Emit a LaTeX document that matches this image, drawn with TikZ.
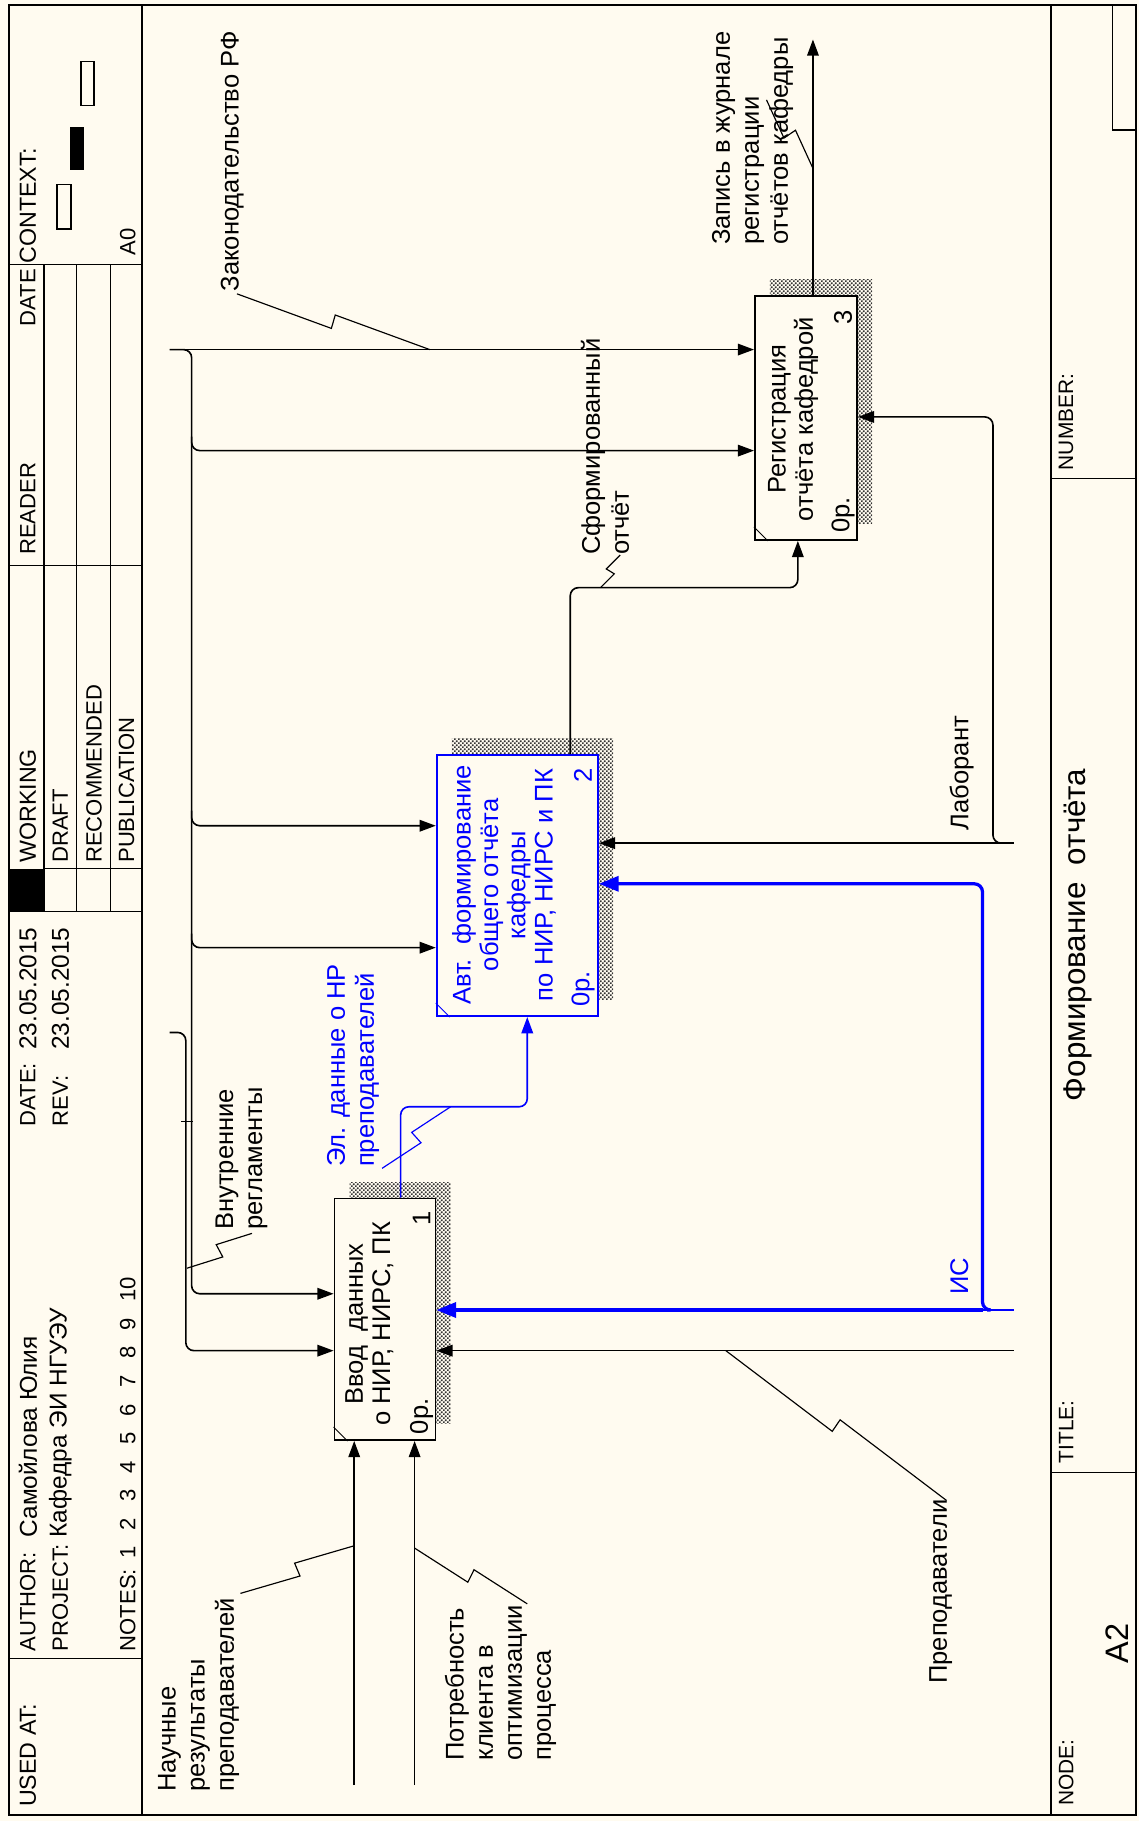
\documentclass[tikz,border=0pt]{standalone}
\usepackage{fontspec}
\setmainfont{Liberation Sans}
\usetikzlibrary{arrows.meta,calc,patterns}
\definecolor{paper}{RGB}{255,251,240}
\definecolor{idb}{RGB}{0,0,255}
\pgfdeclarepatternformonly{idefhatch}{\pgfqpoint{0pt}{0pt}}{\pgfqpoint{3.4pt}{3.4pt}}{\pgfqpoint{3.4pt}{3.4pt}}{%
  \pgfpathrectangle{\pgfqpoint{0pt}{0pt}}{\pgfqpoint{1.45pt}{1.45pt}}%
  \pgfpathrectangle{\pgfqpoint{1.7pt}{1.7pt}}{\pgfqpoint{1.45pt}{1.45pt}}%
  \pgfusepath{fill}}
\tikzset{
  frameline/.style={draw=black,line width=1.5pt},
  thinframe/.style={draw=black,line width=1.1pt},
  frtext/.style={rotate=90,inner sep=0pt,anchor=west,font=\fontsize{#1}{#1}\selectfont},
  frtext/.default=19,
  lbl/.style={rotate=90,inner sep=0pt,anchor=west,align=left,font=\fontsize{22}{25}\selectfont},
  boxtext/.style={rotate=90,inner sep=0pt,align=center,font=\fontsize{22}{23.5}\selectfont},
  idefbox/.style={draw=black,line width=1.5pt,fill=paper,inner sep=0pt,
    preaction={draw=none,pattern=idefhatch,pattern color=black!80,
      transform canvas={xshift=13pt,yshift=14pt}}},
  arr/.style={draw=black,line width=1.4pt,rounded corners=7pt,-{Triangle[length=14pt,width=10pt]}},
  barr/.style={draw=idb,line width=2.8pt,rounded corners=7pt,-{Triangle[length=17pt,width=13pt]}},
  bthinarr/.style={draw=idb,line width=1.4pt,rounded corners=7pt,-{Triangle[length=14pt,width=10pt]}},
  bthin/.style={draw=idb,line width=1.3pt},
  leader/.style={draw=black,line width=1pt},
}
\newcommand\zleader[4][6]{%
  \coordinate (zlm) at ($(#2)!0.5!(#3)$);
  \draw[leader,#4] (#2) -- ($(zlm)!#1pt!-90:(#3)$) -- ($(zlm)!#1pt!90:(#3)$) -- (#3);}
\begin{document}
\begin{tikzpicture}[x=1pt,y=-1pt]
\useasboundingbox (0,0) rectangle (981,1568);
\fill[paper] (0,0) rectangle (981,1568);

% ---------- frame ----------
\draw[frameline] (8,4) rectangle (978,1563);
\draw[frameline] (122,4) -- (122,1563);
\draw[frameline] (905,4) -- (905,1563);
\draw[thinframe] (8,228) -- (122,228) (8,487) -- (122,487) (8,785) -- (122,785) (8,1428) -- (122,1428);
\draw[thinframe] (38,228) -- (38,785) (66,228) -- (66,785) (95,228) -- (95,785) (38,748) -- (122,748);
\fill (8,748) rectangle (38,785);
\draw[thinframe] (905,412) -- (978,412) (905,1268) -- (978,1268);
\draw[thinframe] (958,4) -- (958,112) -- (978,112);
\draw[thinframe,line width=1.4pt] (49,159) rectangle (61,197);
\fill (60,109) rectangle (72,146);
\draw[thinframe,line width=1.4pt] (70,53) rectangle (81,91);

\node[frtext=20] (tused) at (24,1556) {USED AT:};
\node[frtext] (tauth) at (24,1422) {AUTHOR:};
\node[frtext=21] (tauthv) at (24,1324) {Самойлова Юлия};
\node[frtext] (tproj) at (52,1422) {PROJECT:};
\node[frtext=21] (tprojv) at (52,1324) {Кафедра ЭИ НГУЭУ};
\node[frtext] (tnotes) at (110,1422) {NOTES:\hspace{9pt}1\hspace{14pt}2\hspace{14pt}3\hspace{14pt}4\hspace{14pt}5\hspace{14pt}6\hspace{14pt}7\hspace{14pt}8\hspace{14pt}9\hspace{14pt}10};
\node[frtext] (tdate) at (24,970) {DATE:};
\node[frtext=21] (tdatev) at (24,904) {23.05.2015};
\node[frtext] (trev) at (52,970) {REV:};
\node[frtext=21] (trevv) at (52,904) {23.05.2015};
\node[frtext=20] (twork) at (24,743) {WORKING};
\node[frtext] (tdraft) at (52,743) {DRAFT};
\node[frtext] (trec) at (81,743) {RECOMMENDED};
\node[frtext] (tpub) at (109,743) {PUBLICATION};
\node[frtext] (tread) at (24,478) {READER};
\node[frtext] (tdate2) at (24,281) {DATE};
\node[frtext=20] (tctx) at (24,227) {CONTEXT:};
\node[frtext] (ta0) at (110,220) {A0};
\node[frtext=18] (tnum) at (918,405) {NUMBER:};
\node[frtext=18] (ttitle) at (918,1260) {TITLE:};
\node[frtext=18] (tnode) at (918,1555) {NODE:};
\node[rotate=90,inner sep=0pt,font=\fontsize{27}{30}\selectfont] (ttl) at (928,805) {Формирование\ \ отчёта};
\node[rotate=90,inner sep=0pt,font=\fontsize{28}{30}\selectfont] (tA2) at (962,1415) {A2};

% ---------- boxes ----------
\node[idefbox,minimum width=87pt,minimum height=208pt] (b1) at (331.5,1136) {};
\node[idefbox,draw=idb,minimum width=139pt,minimum height=225pt] (b2) at (445.5,762.5) {};
\node[idefbox,minimum width=88pt,minimum height=210pt] (b3) at (694,360) {};
\draw[line width=0.8pt] ($(b1.south west)+(0,-12)$) -- ($(b1.south west)+(12,0)$);
\draw[line width=0.8pt,idb] ($(b2.south west)+(0,-12)$) -- ($(b2.south west)+(12,0)$);
\draw[line width=0.8pt] ($(b3.south west)+(0,-12)$) -- ($(b3.south west)+(12,0)$);

\node[boxtext] (t1) at (318,1140) {Ввод\ \ данных\\о НИР, НИРС, ПК};
\node[boxtext,text=idb] (t2) at (434,762) {Авт.\ \ формирование\\общего отчёта\\кафедры\\по НИР, НИРС и ПК};
\node[boxtext] (t3) at (683,361) {Регистрация\\отчёта кафедрой};
\node[lbl,anchor=east] (n1) at (363,1043) {1};
\node[lbl] (c1) at (363,1235) {0р.};
\node[lbl,anchor=east,text=idb] (n2) at (502,661) {2};
\node[lbl,text=idb] (c2) at (502,867) {0р.};
\node[lbl,anchor=east] (n3) at (726,267) {3};
\node[lbl] (c3) at (726,459) {0р.};

% ---------- free ends ----------
\coordinate (lawin) at (146,301);
\coordinate (regin) at (146,889);
\coordinate (nrin) at (305,1537);
\coordinate (potin) at (357,1537);
\coordinate (labin) at (873,726);
\coordinate (isin) at (873,1128);
\coordinate (prin) at (873,1163);
\coordinate (out3) at (700,34);

% ---------- connectors ----------
\draw[arr] (lawin) -- (lawin -| b3.west);
\draw[arr] (lawin) -- (165,301) -- (165,1114) -- (b1.west |- 0,1114);
\draw[arr] (165,376) -- (165,388) -- (b3.west |- 0,388);
\draw[arr] (165,698) -- (165,711) -- (b2.west |- 0,711);
\draw[arr] (165,804) -- (165,816) -- (b2.west |- 0,816);
\draw[arr] (regin) -- (160,889) -- (160,1163) -- (b1.west |- 0,1163);
\draw[line width=1pt] (156,966) -- (166,966);

\draw[arr] (nrin) -- (nrin |- b1.south);
\draw[arr] (potin) -- (potin |- b1.south);

\draw[bthinarr] (345,0 |- b1.north) -- (345,953) -- (454,953) -- (454,0 |- b2.south);
\draw[arr] (491,0 |- b2.north) -- (491,506) -- (687,506) -- (687,0 |- b3.south);
\draw[arr] (700,0 |- b3.north) -- (out3);

\draw[arr] (labin) -- (labin -| b2.east);
\draw[arr] (866,726) -- (855,726) -- (855,359) -- (b3.east |- 0,359);

\draw[bthin] (isin) -- (846,1128);
\draw[barr] (846,1128) -- (b1.east |- 0,1128);
\draw[barr] (850,1128) -- (846,1128) -- (846,761) -- (b2.east |- 0,761);

\draw[arr] (prin) -- (prin -| b1.east);

% ---------- labels ----------
\node[lbl] (llaw) at (200,251) {Законодательство РФ};
\node[lbl] (lzap) at (648,211) {Запись в журнале\\регистрации\\отчётов кафедры};
\node[lbl] (lsf) at (521,478) {Сформированный\\отчёт};
\node[lbl] (llab) at (828,715) {Лаборант};
\node[lbl] (lreg) at (208,1059) {Внутренние\\регламенты};
\node[lbl,text=idb] (lel) at (304,1005) {Эл. данные о НР\\преподавателей};
\node[lbl,text=idb] (lis) at (826,1115) {ИС};
\node[lbl] (lnr) at (171,1543) {Научные\\результаты\\преподавателей};
\node[lbl] (lpot) at (431,1516) {Потребность\\клиента в\\оптимизации\\процесса};
\node[lbl] (lpr) at (810,1450) {Преподаватели};

% ---------- leaders ----------
\coordinate (lawA) at (204,253); \coordinate (lawB) at (370,301);
\zleader{lawA}{lawB}{}
\coordinate (regB) at (161,1092); \coordinate (regA) at (217,1062);
\zleader{regB}{regA}{}
\coordinate (nrA) at (207,1372); \coordinate (nrB) at (305,1331);
\zleader{nrA}{nrB}{}
\coordinate (potB) at (357,1333); \coordinate (potA) at (454,1381);
\zleader{potB}{potA}{}
\coordinate (elA) at (329,1006); \coordinate (elB) at (388,953);
\zleader{elA}{elB}{draw=idb}
\coordinate (sfB) at (517,506); \coordinate (sfA) at (534,478);
\zleader[4]{sfB}{sfA}{}
\coordinate (zapA) at (660,86); \coordinate (zapB) at (700,145);
\zleader{zapA}{zapB}{}
\coordinate (prB) at (625,1163); \coordinate (prA) at (815,1292);
\zleader{prB}{prA}{}
\end{tikzpicture}
\end{document}
